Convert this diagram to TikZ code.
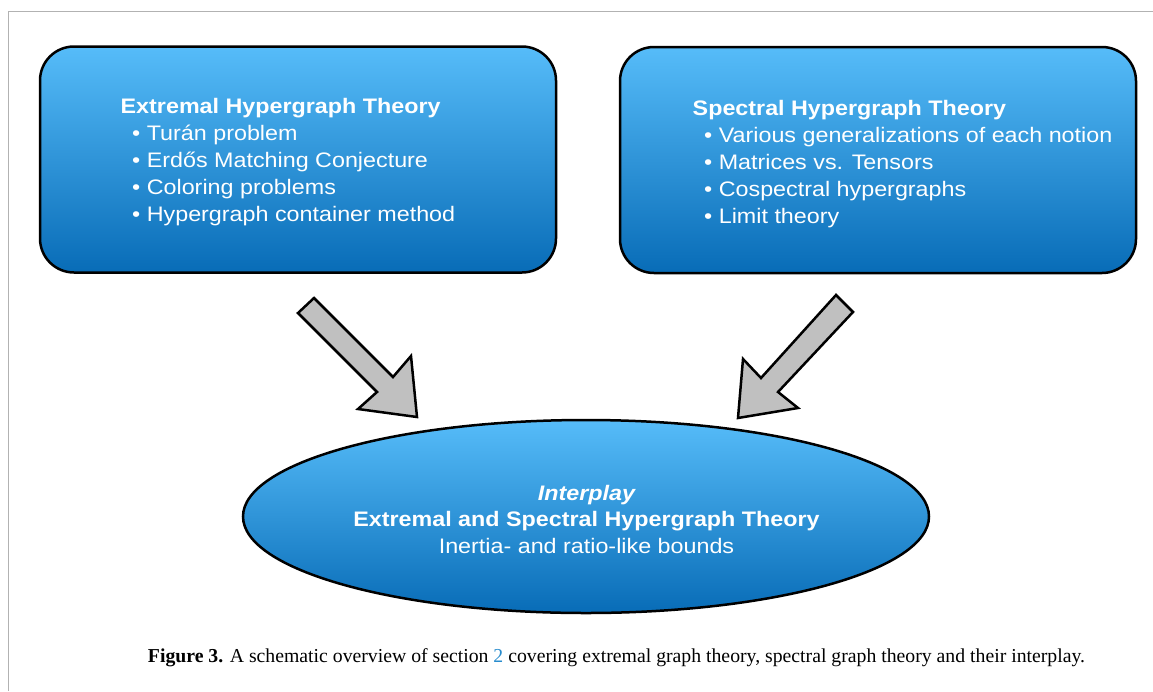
\documentclass[tikz,border=0pt]{standalone}
\usepackage{fontspec}
\setmainfont{Liberation Serif}
\newfontfamily\dsans{Liberation Sans}[FakeStretch=1.11]
\usetikzlibrary{shapes.geometric}
\definecolor{topblue}{RGB}{86,188,249}
\definecolor{botblue}{RGB}{8,108,183}
\definecolor{arrowgray}{RGB}{192,192,192}
\definecolor{framegray}{RGB}{178,178,178}
\definecolor{linkblue}{RGB}{40,140,205}
\tikzset{
  bluebox/.style={draw=black, line width=2.5pt, rounded corners=34pt, top color=topblue, bottom color=botblue, inner sep=0pt},
  blueellipse/.style={ellipse, draw=black, line width=2.5pt, top color=topblue, bottom color=botblue, inner sep=0pt},
  blockarrow/.style={draw=black, fill=arrowgray, line width=2.5pt, line join=miter},
  txt/.style={text=white, inner sep=0pt, font=\dsans\fontsize{21}{27}\selectfont},
  ltxt/.style={txt, anchor=base west},
  ctxt/.style={txt, anchor=base},
  captxt/.style={inner sep=0pt, anchor=base, font=\fontsize{17.5}{21}\selectfont}
}
\begin{document}
\begin{tikzpicture}[x=1pt,y=-1pt]
\useasboundingbox (0,0) rectangle (1153,691);
% frame
\draw[framegray, line width=1.5pt] (8.5,691) -- (8.5,11.5) -- (1153,11.5);
% boxes
\node[bluebox, minimum width=516pt, minimum height=226pt] (ext) at (298,159.5) {};
\node[bluebox, minimum width=516pt, minimum height=226pt] (spe) at (878,160) {};
% ellipse
\node[blueellipse, minimum width=686pt, minimum height=193pt] (inter) at (586,516.5) {};
% left box text
\node[ltxt] (et) at (120.5,113) {\bfseries Extremal Hypergraph Theory};
\node[ltxt] (e1) at (132,140) {• Turán problem};
\node[ltxt] (e2) at (132,167) {• Erdős Matching Conjecture};
\node[ltxt] (e3) at (132,194) {• Coloring problems};
\node[ltxt] (e4) at (132,221) {• Hypergraph container method};
% right box text
\node[ltxt] (st) at (692.5,115) {\bfseries Spectral Hypergraph Theory};
\node[ltxt] (s1) at (704,142) {• Various generalizations of each notion};
\node[ltxt] (s2) at (704,169) {• Matrices vs. Tensors};
\node[ltxt] (s3) at (704,196) {• Cospectral hypergraphs};
\node[ltxt] (s4) at (704,223) {• Limit theory};
% ellipse text
\node[ctxt] (i1) at (586.5,500) {\bfseries\itshape Interplay};
\node[ctxt] (i2) at (586.5,526) {\bfseries Extremal and Spectral Hypergraph Theory};
\node[ctxt] (i3) at (586.5,553) {Inertia- and ratio-like bounds};
% block arrows
\draw[blockarrow] (314,298) -- (393,377) -- (411,356) -- (417,417) -- (358,409) -- (377,392) -- (298,313) -- cycle;
\draw[blockarrow] (836,295) -- (853,312) -- (778,392) -- (798,408) -- (738,418) -- (743,359) -- (761,378) -- cycle;
% caption
\node[captxt] (cap) at (616.5,662) {\resizebox{937pt}{!}{\textbf{Figure 3.} A schematic overview of section {\color{linkblue}2} covering extremal graph theory, spectral graph theory and their interplay.}};
\end{tikzpicture}
\end{document}
